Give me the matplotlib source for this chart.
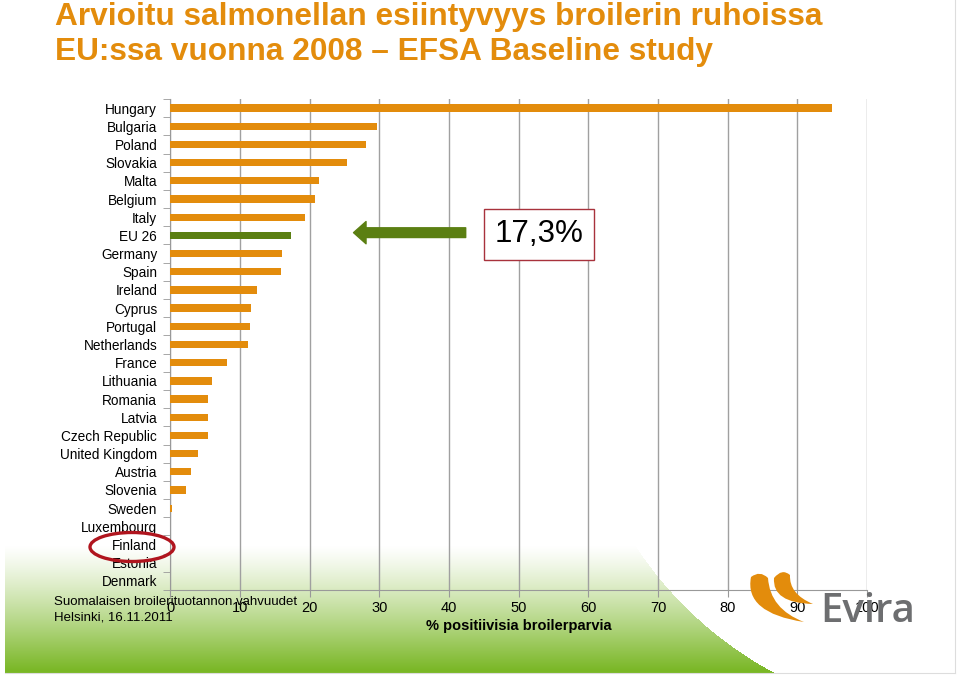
import numpy as np
import matplotlib
matplotlib.use('Agg')
import matplotlib.pyplot as plt
from matplotlib.patches import Ellipse, PathPatch
from matplotlib.path import Path
from matplotlib.lines import Line2D

plt.rcParams['font.family'] = ['Liberation Sans', 'DejaVu Sans']

# data (% positive broiler batches, EFSA 2008)
countries = ['Hungary', 'Bulgaria', 'Poland', 'Slovakia', 'Malta', 'Belgium', 'Italy',
             'EU 26', 'Germany', 'Spain', 'Ireland', 'Cyprus', 'Portugal', 'Netherlands',
             'France', 'Lithuania', 'Romania', 'Latvia', 'Czech Republic', 'United Kingdom',
             'Austria', 'Slovenia', 'Sweden', 'Luxembourg', 'Finland', 'Estonia', 'Denmark']
values = [95.0, 29.6, 28.1, 25.3, 21.4, 20.7, 19.3,
          17.3, 16.1, 15.9, 12.4, 11.6, 11.5, 11.2,
          8.2, 6.0, 5.4, 5.4, 5.4, 4.0,
          3.0, 2.2, 0.3, 0.0, 0.0, 0.0, 0.0]
xticks = list(range(0, 101, 10))

orange = '#e38c0c'
green = '#5b7f12'
W, H = 960, 676


def px(x, y):
    # pixel position (top-left origin) -> figure fraction
    return x / W, 1 - y / H


fig = plt.figure(figsize=(9.6, 6.76), dpi=100)

# green gradient band at the bottom of the slide
bg = fig.add_axes([0, 0, 1, 1], zorder=-5)
bg.set_axis_off()
yy, xx = np.mgrid[0:H, 0:W]
t = np.clip((yy - 545) / (670 - 545), 0, 1) ** 1.2
img = np.ones((H, W, 3))
bottom = np.array([122, 183, 38]) / 255
for c in range(3):
    img[..., c] = 1 - t * (1 - bottom[c])
outside = ((xx - 955) ** 2 + (yy - 335) ** 2) < 383 ** 2
img[outside] = 1
img[yy > 672] = 1
img[xx < 5] = 1
bg.imshow(img, extent=[0, W, H, 0], aspect='auto')
bg.set_xlim(0, W)
bg.set_ylim(H, 0)
fig.add_artist(Line2D([955 / W, 955 / W], [1 - 673 / H, 1], transform=fig.transFigure,
                      color='#dddddd', lw=0.8))
fig.add_artist(Line2D([5 / W, 955 / W], [1 - 673 / H, 1 - 673 / H], transform=fig.transFigure,
                      color='#dddddd', lw=0.8))

l, b = px(170.3, 590)
r, tp = px(867, 99)
ax = fig.add_axes([l, b, r - l, tp - b])
ax.patch.set_alpha(0)

ypos = np.arange(len(countries))
colors = [green if c == 'EU 26' else orange for c in countries]
ax.barh(ypos, values, height=0.4, color=colors, zorder=3)

ax.set_xlim(0, 100)
ax.set_ylim(len(countries) - 0.5, -0.5)
ax.set_xticks(xticks)
ax.set_xticklabels([str(v) for v in xticks], fontsize=10.5)
ax.set_yticks(ypos)
ax.set_yticklabels(countries, fontsize=9.8)
ax.set_yticks(np.arange(len(countries) + 1) - 0.5, minor=True)
ax.tick_params(axis='y', which='major', length=0, pad=9.4)
ax.tick_params(axis='y', which='minor', length=5, color='#999999')
ax.tick_params(axis='x', length=5, color='#999999', pad=3)
ax.grid(axis='x', color='#a0a0a0', linewidth=1, zorder=0)
for s in ['top', 'right']:
    ax.spines[s].set_visible(False)
for s in ['left', 'bottom']:
    ax.spines[s].set_color('#999999')
ax.set_xlabel('% positiivisia broilerparvia', fontsize=10.5, fontweight='bold', labelpad=3)

# arrow and value box for EU 26
ax.annotate('', xy=(26.3, 6.85), xytext=(42.4, 6.85),
            arrowprops=dict(arrowstyle='simple,head_length=0.9,head_width=1.6,tail_width=0.7',
                            color=green, mutation_scale=10, shrinkA=0, shrinkB=0))
ax.text(52.9, 6.95, '17,3%', fontsize=22.6, ha='center', va='center', zorder=5,
        bbox=dict(boxstyle='square,pad=0.33', facecolor='white', edgecolor='#a8323c', lw=1))

# title
fig.text(*px(55, 25), 'Arvioitu salmonellan esiintyvyys broilerin ruhoissa',
         fontsize=22.8, fontweight='bold', color=orange, va='baseline')
fig.text(*px(55, 60), 'EU:ssa vuonna 2008 \u2013 EFSA Baseline study',
         fontsize=22.8, fontweight='bold', color=orange, va='baseline')

# footer
fig.text(*px(54, 602), 'Suomalaisen broilerituotannon vahvuudet', fontsize=9.5, va='center')
fig.text(*px(54, 618), 'Helsinki, 16.11.2011', fontsize=9.5, va='center')

# red circle around Finland
cx, cy = px(132, 547)
fig.add_artist(Ellipse((cx, cy), 84 / W, 29 / H, transform=fig.transFigure,
                       fill=False, edgecolor='#b0151e', lw=2.4, zorder=10))

# Evira logo (rough): two orange crescent wings and grey text
wings = [
    [(751, 577), (744, 613), (804, 622), (770, 609), (768, 578), (760, 570), (751, 577)],
    [(774, 578), (772, 603), (813, 604), (789, 594), (790, 575), (782, 568), (774, 578)],
]
codes = [Path.MOVETO, Path.CURVE3, Path.CURVE3, Path.CURVE3, Path.CURVE3,
         Path.CURVE3, Path.CURVE3]
for pts in wings:
    verts = [px(x, y) for x, y in pts]
    fig.add_artist(PathPatch(Path(verts, codes), transform=fig.transFigure,
                             facecolor=orange, edgecolor='none', zorder=10))
fig.text(*px(820, 622), 'Evira', fontsize=29, color='#6d6e70', va='baseline',
         fontweight='semibold', family=['Open Sans', 'DejaVu Sans'], zorder=10)

fig.savefig('out.png', dpi=100)
